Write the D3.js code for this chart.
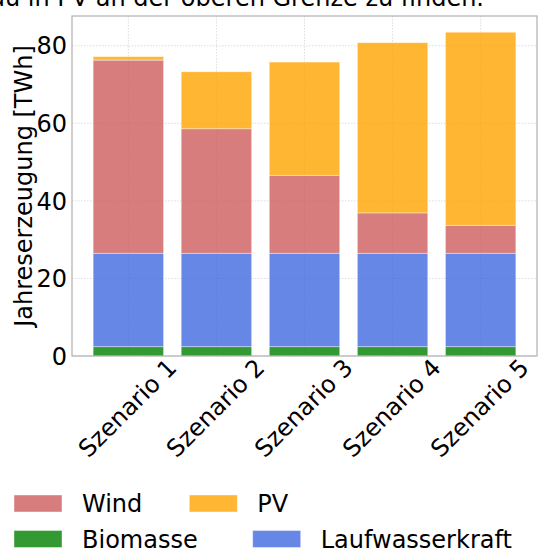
<!DOCTYPE html>
<html>
<head>
<meta charset="utf-8">
<script src="https://cdn.jsdelivr.net/npm/d3@7"></script>
<style>
  body { margin: 0; background: #fff; }
  svg { display: block; font-family: "DejaVu Sans", sans-serif; }
</style>
</head>
<body>
<div id="chart"></div>
<script>
// data (TWh)
var scenarios = ["Szenario 1", "Szenario 2", "Szenario 3", "Szenario 4", "Szenario 5"];
var biomasse = [2.4, 2.4, 2.4, 2.4, 2.4];
var laufwasser = [24.1, 24.1, 24.1, 24.1, 24.1];
var wind = [49.8, 32.1, 20.1, 10.4, 7.2];
var pv = [0.9, 14.7, 29.2, 43.9, 49.8];
var yTicks = [0, 20, 40, 60, 80];

var keys = ["Biomasse", "Laufwasserkraft", "Wind", "PV"];
var colors = {
  "Biomasse": "green",
  "Laufwasserkraft": "royalblue",
  "Wind": "indianred",
  "PV": "orange"
};

var W = 538, H = 550;
var margin = { top: 16, right: 1, bottom: 194, left: 72 };
var width = W - margin.left - margin.right,
    height = H - margin.top - margin.bottom;

// table for d3.stack
var table = scenarios.map(function (s, i) {
  return { name: s, "Biomasse": biomasse[i], "Laufwasserkraft": laufwasser[i], "Wind": wind[i], "PV": pv[i] };
});
var stacked = d3.stack().keys(keys)(table);
var maxTotal = d3.max(table, d => d.Biomasse + d.Laufwasserkraft + d.Wind + d.PV);

var svg = d3.select("#chart").append("svg")
  .attr("width", W).attr("height", H);

// caption line from above the chart, cut off at the top edge
svg.append("text")
  .attr("x", 484).attr("y", 5.5)
  .attr("text-anchor", "end")
  .style("font-size", "24px")
  .text("Ausbau in PV an der oberen Grenze zu finden.");

var g = svg.append("g")
  .attr("transform", "translate(" + margin.left + "," + margin.top + ")");

var x = d3.scaleBand().domain(scenarios).range([0, width])
  .paddingInner(0.2).paddingOuter(0.24);
var y = d3.scaleLinear().domain([0, maxTotal * 1.05]).range([height, 0]);

// grid
g.append("g").selectAll("line.h")
  .data(yTicks).enter().append("line")
  .attr("x1", 0).attr("x2", width)
  .attr("y1", d => y(d)).attr("y2", d => y(d))
  .attr("stroke", "#d4d4d4").attr("stroke-width", 0.8)
  .attr("stroke-dasharray", "1.5,1.5");
g.append("g").selectAll("line.v")
  .data(scenarios).enter().append("line")
  .attr("x1", d => x(d) + x.bandwidth() / 2).attr("x2", d => x(d) + x.bandwidth() / 2)
  .attr("y1", 0).attr("y2", height)
  .attr("stroke", "#d4d4d4").attr("stroke-width", 0.8)
  .attr("stroke-dasharray", "1.5,1.5");

// bars
g.append("g")
  .selectAll("g")
  .data(stacked)
  .enter().append("g")
  .attr("fill", d => colors[d.key])
  .attr("fill-opacity", 0.8)
  .selectAll("rect")
  .data(d => d)
  .enter().append("rect")
  .attr("x", d => x(d.data.name))
  .attr("y", d => y(d[1]))
  .attr("height", d => y(d[0]) - y(d[1]))
  .attr("width", x.bandwidth())
  .attr("stroke", "#fff").attr("stroke-opacity", 0.5).attr("stroke-width", 0.8);

// frame
g.append("rect")
  .attr("x", 0).attr("y", 0).attr("width", width).attr("height", height)
  .attr("fill", "none").attr("stroke", "#b0b0b0").attr("stroke-width", 1.2);

// y tick labels
g.append("g").selectAll("text")
  .data(yTicks).enter().append("text")
  .attr("x", -5).attr("y", d => y(d))
  .attr("dy", "0.36em")
  .attr("text-anchor", "end")
  .style("font-size", "24px")
  .text(d => d);

// x tick labels, rotated
g.append("g").selectAll("text")
  .data(scenarios).enter().append("text")
  .attr("transform", d => "translate(" + (x(d) + x.bandwidth() / 2 - 1) + "," + (height + 52) + ") rotate(-45)")
  .attr("dy", "0.35em")
  .attr("text-anchor", "middle")
  .style("font-size", "24px")
  .text(d => d);

// y axis label
svg.append("text")
  .attr("transform", "translate(31.5," + (margin.top + height / 2) + ") rotate(-90)")
  .attr("text-anchor", "middle")
  .style("font-size", "24px")
  .text("Jahreserzeugung [TWh]");

// legend (two rows)
var legendRows = [["Wind", "PV"], ["Biomasse", "Laufwasserkraft"]];
var legendColX = [[14, 189.3], [14, 252.7]];
var swW = 48, swH = 17;
legendRows.forEach(function (row, r) {
  var top = 495 + r * 35.5;
  row.forEach(function (k, c) {
    var sx = legendColX[r][c];
    svg.append("rect")
      .attr("x", sx).attr("y", top).attr("width", swW).attr("height", swH)
      .attr("fill", colors[k]).attr("fill-opacity", 0.8)
      .attr("stroke", "#fff").attr("stroke-opacity", 0.5).attr("stroke-width", 0.8);
    svg.append("text")
      .attr("x", sx + swW + 20).attr("y", top + swH)
      .style("font-size", "24px")
      .text(k);
  });
});
</script>
</body>
</html>
